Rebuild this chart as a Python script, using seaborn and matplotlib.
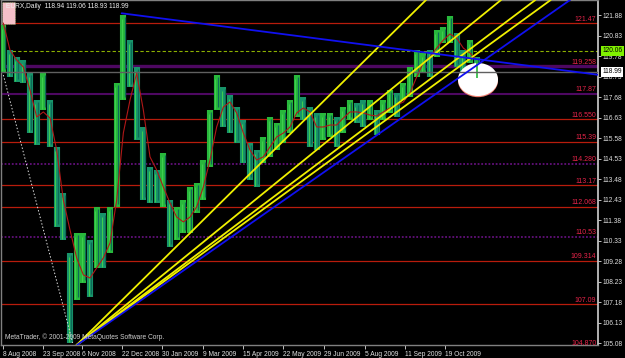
import numpy as np
import pandas as pd
import matplotlib
matplotlib.use("Agg")
import matplotlib.pyplot as plt
import seaborn as sns
from matplotlib.patches import Ellipse, Rectangle
from matplotlib.transforms import blended_transform_factory

# ---------------- data ----------------
high = [121.38, 120.10, 119.74, 119.59, 118.92, 117.54, 118.92, 117.54, 115.14, 112.78,
        109.71, 110.74, 110.74, 110.38, 112.07, 111.76, 112.07, 118.41, 121.89, 120.61,
        119.23, 116.16, 114.11, 113.96, 114.83, 112.42, 112.07, 112.42, 113.09, 113.29,
        114.47, 117.03, 118.82, 118.21, 117.80, 117.18, 116.52, 115.34, 114.98, 115.65,
        116.67, 116.37, 117.03, 117.54, 118.82, 117.70, 117.18, 116.88, 116.88, 116.88,
        116.67, 117.18, 117.54, 117.39, 117.54, 117.54, 117.03, 117.54, 118.05, 117.90,
        118.41, 119.23, 120.10, 119.95, 120.10, 121.13, 121.28, 121.84, 120.97, 120.10,
        120.61, 119.74]
low = [118.98, 118.72, 118.46, 118.41, 115.85, 115.24, 117.03, 115.14, 111.04, 110.38,
       105.11, 107.31, 108.18, 107.46, 108.94, 108.94, 109.71, 112.07, 117.54, 118.21,
       115.50, 112.42, 112.27, 112.27, 112.07, 110.02, 110.38, 110.74, 110.74, 111.76,
       112.42, 114.11, 117.03, 116.16, 115.85, 115.34, 114.32, 113.45, 113.09, 114.32,
       114.63, 114.98, 115.34, 115.85, 116.67, 116.52, 115.14, 114.98, 115.50, 115.65,
       115.14, 115.85, 116.52, 116.37, 116.16, 116.52, 115.75, 116.52, 116.88, 116.67,
       117.54, 117.70, 118.72, 118.92, 118.72, 119.74, 120.46, 120.46, 119.23, 118.72,
       119.44, 118.67]
ma = [121.48, 120.10, 119.59, 119.23, 118.05, 116.67, 116.93, 116.62, 114.98, 112.42,
      110.89, 109.46, 108.59, 108.43, 108.94, 109.46, 110.22, 112.42, 115.85, 117.54,
      118.92, 117.03, 114.63, 113.96, 113.09, 112.27, 111.55, 111.30, 111.55, 112.07,
      113.09, 114.47, 116.16, 117.18, 117.44, 116.88, 115.85, 114.98, 114.47, 114.63,
      115.14, 115.65, 115.85, 116.16, 116.88, 117.13, 116.93, 116.16, 116.16, 116.26,
      116.26, 116.62, 116.93, 116.93, 116.88, 116.77, 116.72, 116.93, 117.13, 117.29,
      117.44, 117.90, 118.72, 119.44, 119.74, 120.20, 120.61, 120.92, 120.71, 120.20,
      119.95, 119.59]

date_tick_pos = [-0.1, 5.9, 11.75, 17.75, 23.85, 29.9, 35.95, 41.9, 48.1, 54.25, 60.3, 66.3]
date_labels = ["8 Aug 2008", "23 Sep 2008", "6 Nov 2008", "22 Dec 2008", "30 Jan 2009",
               "9 Mar 2009", "15 Apr 2009", "22 May 2009", "29 Jun 2009", "5 Aug 2009",
               "11 Sep 2009", "19 Oct 2009"]
price_ticks = [121.88, 120.83, 119.78, 118.73, 117.68, 116.63, 115.58, 114.53, 113.48,
               112.43, 111.38, 110.33, 109.28, 108.23, 107.18, 106.13, 105.08]

fib_levels = [121.47, 119.258, 117.87, 116.55, 115.39, 114.28, 113.17, 112.068, 110.53,
              109.314, 107.09, 104.87]
fib_labels = ["121.47", "119.258", "117.87", "116.550", "115.39", "114.280", "113.17",
              "112.068", "110.53", "109.314", "107.09", "104.870"]
fib_kind = ["red", "purple3", "purple2", "red", "red", "pdot", "red", "red", "pdot",
            "red", "red", "frame"]

ask_price = 120.06
bid_price = 118.99
title_text = "EURX,Daily  118.94 119.06 118.93 118.99"
copyright_text = "MetaTrader, \u00a9 2001-2009 MetaQuotes Software Corp."

fan_origin = (11.0, 105.0)
fan_end_x = [63.4, 74.65, 79.8, 82.1]
fan_end_y = 122.66
blue_up = [(11.05, 105.0), (85.0, 122.66)]
blue_down = [(17.75, 121.98), (89.5, 118.82)]
dotted_line = [(0.0, 118.82), (10.4, 105.11)]
ellipse_center = (71.2, 118.59)
ellipse_size = (6.0, 1.69)
box_corner = (-0.25, 121.43)
box_size = (1.95, 1.13)

# ---------------- figure ----------------
sns.set_theme(style="dark")
FONT = ["Liberation Sans", "DejaVu Sans"]
plt.rcParams["font.family"] = FONT
FS = 4.8

fig = plt.figure(figsize=(6.25, 3.58), dpi=100, facecolor="black")
ax = fig.add_axes([1 / 625, 13 / 358, 597 / 625, 345 / 358])
ax.set_facecolor("black")
ax.set_xlim(-0.35, 89.2)
ax.set_ylim(105.0, 122.66)
ax.grid(False)

# horizontal levels
for lvl, kind in zip(fib_levels, fib_kind):
    if kind == "red":
        ax.axhline(lvl, color="#b81c0c", lw=0.9, zorder=1)
    elif kind == "purple3":
        ax.axhline(lvl, color="#4e0862", lw=2.4, zorder=1)
    elif kind == "purple2":
        ax.axhline(lvl, color="#4e0862", lw=1.5, zorder=1)
    elif kind == "pdot":
        ax.axhline(lvl, color="#62107a", lw=1.3, ls=(0, (1, 1)), zorder=1)
for lvl, lab in zip(fib_levels, fib_labels):
    ax.text(88.95, lvl + 0.03, lab, color="#e8244a", fontsize=5.0, ha="right",
            va="bottom", zorder=6)

# pink box
ax.add_patch(Rectangle(box_corner, box_size[0], box_size[1], facecolor="#f5c0c8",
                       edgecolor="#8aa060", lw=0.6, ls=":", zorder=2))

ax.axhline(ask_price, color="#8cb000", lw=0.8, ls=(0, (3, 2)), zorder=2)

# price bars
idx = np.arange(len(high))
hi = np.array(high)
lo = np.array(low)
mid = (hi + lo) / 2
up = np.r_[True, mid[1:] >= mid[:-1]]
ax.vlines(idx[up], lo[up], hi[up], color="#28b83c", lw=4.4, zorder=3)
ax.vlines(idx[~up], lo[~up], hi[~up], color="#17946a", lw=4.4, zorder=3)
ax.vlines(idx + 0.18, lo + 0.15, hi - 0.1, color="#0c6a58", lw=0.9, zorder=3.1)
ax.vlines(idx - 0.22, lo + 0.05, hi - 0.2, color="#40d050", lw=0.7, zorder=3.1)

df = pd.DataFrame({"i": idx, "ma": ma})
sns.lineplot(data=df, x="i", y="ma", ax=ax, color="#b01818", lw=0.8, zorder=4)

# ellipse marker (covers bars beneath it)
ax.add_patch(Ellipse((ellipse_center[0], ellipse_center[1] - 0.06), ellipse_size[0],
                     ellipse_size[1], facecolor="#f08070", edgecolor="none", zorder=4.2))
ax.add_patch(Ellipse(ellipse_center, ellipse_size[0], ellipse_size[1],
                     facecolor="white", edgecolor="none", zorder=4.3))
ax.vlines(idx[-1], lo[-1], hi[-1], color="#28b83c", lw=1.2, zorder=4.4)
ax.axhline(bid_price, color="#606060", lw=1.0, zorder=4.5)

# trendlines
for ex in fan_end_x:
    ax.axline(fan_origin, (ex, fan_end_y), color="#f0f000", lw=1.3, zorder=5)
ax.axline(blue_up[0], blue_up[1], color="#1010f0", lw=1.3, zorder=5)
ax.plot([blue_down[0][0], blue_down[1][0]], [blue_down[0][1], blue_down[1][1]],
        color="#1010f0", lw=1.3, zorder=5)
ax.plot([dotted_line[0][0], dotted_line[1][0]], [dotted_line[0][1], dotted_line[1][1]],
        color="#e0e0e0", lw=0.7, ls=(0, (1.5, 2)), zorder=5)

# axes styling
for s in ["left", "bottom", "top"]:
    ax.spines[s].set_color("#808080")
    ax.spines[s].set_linewidth(1.0)
ax.spines["right"].set_color("#d0d0d0")
ax.spines["right"].set_linewidth(1.2)

ax.yaxis.tick_right()
ax.set_yticks(price_ticks)
ax.set_yticklabels([f"{p:.2f}" for p in price_ticks])
ax.tick_params(axis="y", colors="#e0e0e0", labelsize=FS, length=2, width=0.6, pad=1.5,
               right=True, left=False)
ax.set_xticks(date_tick_pos)
ax.set_xticklabels(date_labels)
ax.tick_params(axis="x", colors="#e0e0e0", labelsize=FS, length=3, width=0.6, pad=1.5,
               bottom=True)
for t in ax.get_xticklabels():
    t.set_ha("left")
ax.set_xlabel("")
ax.set_ylabel("")

trans = blended_transform_factory(ax.transAxes, ax.transData)
ax.text(1.007, ask_price, f"{ask_price:.2f}", transform=trans, fontsize=FS, color="black",
        va="center", ha="left", zorder=7,
        bbox=dict(boxstyle="square,pad=0.25", facecolor="#80f000", edgecolor="none"))
ax.text(1.007, bid_price, f"{bid_price:.2f}", transform=trans, fontsize=FS, color="black",
        va="center", ha="left", zorder=7,
        bbox=dict(boxstyle="square,pad=0.25", facecolor="white", edgecolor="none"))

ax.text(0.008, 0.99, title_text, transform=ax.transAxes, color="#f0f0f0", fontsize=FS,
        ha="left", va="top", zorder=8)
ax.text(0.006, 0.012, copyright_text, transform=ax.transAxes, color="#d0d0d0", fontsize=FS,
        ha="left", va="bottom", zorder=8)

fig.savefig("out.png", dpi=100, facecolor="black")
